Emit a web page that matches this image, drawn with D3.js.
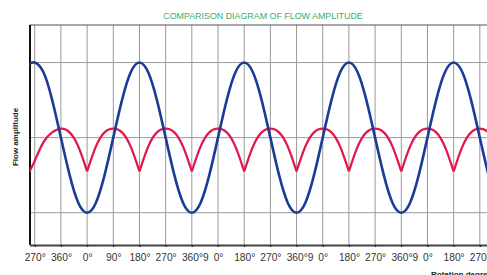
<!DOCTYPE html>
<html>
<head>
<meta charset="utf-8">
<script src="https://cdn.jsdelivr.net/npm/d3@7"></script>
<style>
  body { margin: 0; background: #fff; }
  svg { display: block; font-family: "Liberation Sans", Arial, sans-serif; }
</style>
</head>
<body>
<svg id="chart" width="487" height="275"></svg>
<script>
  // rotation angle (cumulative degrees) of each sample
  const angles = [-18,
    0, 30, 60, 90, 120, 150, 180, 210, 240, 270, 300, 330,
    360, 390, 420, 450, 480, 510, 540, 570, 600, 630, 660, 690,
    720, 750, 780, 810, 840, 870, 900, 930, 960, 990, 1020, 1050,
    1080, 1110, 1140, 1170, 1200, 1230, 1260, 1290, 1320, 1350, 1380, 1410,
    1440, 1470, 1500, 1530, 1560, 1590, 1620];

  const blueFlow = [0.98,
    1, 0.87, 0.5, 0, -0.5, -0.87, -1, -0.87, -0.5, 0, 0.5, 0.87,
    1, 0.87, 0.5, 0, -0.5, -0.87, -1, -0.87, -0.5, 0, 0.5, 0.87,
    1, 0.87, 0.5, 0, -0.5, -0.87, -1, -0.87, -0.5, 0, 0.5, 0.87,
    1, 0.87, 0.5, 0, -0.5, -0.87, -1, -0.87, -0.5, 0, 0.5, 0.87,
    1, 0.87, 0.5, 0, -0.5, -0.87, -1];

  const redFlow = [-0.45,
    -0.31, -0.06, 0.07, 0.12, 0.07, -0.12, -0.45, -0.12, 0.07, 0.12, 0.07, -0.12,
    -0.45, -0.12, 0.07, 0.12, 0.07, -0.12, -0.45, -0.12, 0.07, 0.12, 0.07, -0.12,
    -0.45, -0.12, 0.07, 0.12, 0.07, -0.12, -0.45, -0.12, 0.07, 0.12, 0.07, -0.12,
    -0.45, -0.12, 0.07, 0.12, 0.07, -0.12, -0.45, -0.12, 0.07, 0.12, 0.07, -0.12,
    -0.45, -0.12, 0.07, 0.12, 0.07, -0.12, -0.45];

  const tickAngles = [0, 90, 180, 270, 360, 450, 540, 630, 720, 810, 900, 990,
                      1080, 1170, 1260, 1350, 1440, 1530];
  const tickLabels = ["270°", "360°", "0°", "90°", "180°", "270°", "360°9", "0°", "180°",
                      "270°", "360°9", "0°", "180°", "270°", "360°9", "0°", "180°", "270°"];
  const levelTicks = [-1, 0, 1];

(function() {
  const plotLeft = 29.5, plotTop = 25, plotBottom = 245, plotRight = 506;

  const x = d3.scaleLinear().domain([-18, 1620]).range([plotLeft, plotRight]);
  const y = d3.scaleLinear().domain([-1.43, 1.5]).range([plotBottom, plotTop]);

  const svg = d3.select('#chart');

  svg.append('defs').append('clipPath').attr('id', 'plot')
     .append('rect').attr('x', plotLeft).attr('y', plotTop)
     .attr('width', plotRight - plotLeft).attr('height', plotBottom - plotTop);

  // title
  svg.append('text')
     .attr('x', 263).attr('y', 19)
     .attr('text-anchor', 'middle')
     .attr('font-size', 8.9)
     .attr('fill', '#35ad6c')
     .text('COMPARISON DIAGRAM OF FLOW AMPLITUDE');

  // grid
  svg.append('g').selectAll('line')
     .data(tickAngles)
     .enter().append('line')
     .attr('x1', d => x(d)).attr('x2', d => x(d))
     .attr('y1', plotTop).attr('y2', plotBottom)
     .attr('stroke', '#9a9a9a').attr('stroke-width', 1);

  svg.append('g').selectAll('line')
     .data(levelTicks)
     .enter().append('line')
     .attr('x1', plotLeft).attr('x2', plotRight)
     .attr('y1', d => y(d)).attr('y2', d => y(d))
     .attr('stroke', '#9a9a9a').attr('stroke-width', 1);

  // frame
  svg.append('line')
     .attr('x1', plotLeft).attr('x2', plotRight).attr('y1', plotTop).attr('y2', plotTop)
     .attr('stroke', '#555').attr('stroke-width', 1.2);
  svg.append('line')
     .attr('x1', plotLeft + 0.5).attr('x2', plotLeft + 0.5).attr('y1', plotTop).attr('y2', plotBottom)
     .attr('stroke', '#111').attr('stroke-width', 2);

  // bottom axis
  const axis = d3.axisBottom(x)
     .tickValues(tickAngles)
     .tickFormat((d, i) => tickLabels[i])
     .tickSizeInner(2)
     .tickSizeOuter(0)
     .tickPadding(7);

  const gx = svg.append('g')
     .attr('transform', `translate(0,${plotBottom})`)
     .call(axis);
  gx.select('.domain').attr('stroke', '#444').attr('stroke-width', 2);
  gx.selectAll('.tick line').attr('stroke', '#222').attr('stroke-width', 1.2);
  gx.selectAll('.tick text')
     .attr('font-size', 10.2)
     .attr('font-family', '"Liberation Sans", Arial, sans-serif')
     .attr('fill', '#333')
     .attr('dx', (d, i) => tickLabels[i].endsWith('9') ? 3 : 0);

  // curves
  const points = angles.map((a, i) => ({ a: a, blue: blueFlow[i], red: redFlow[i] }));

  // red flow: split into arcs at the cusps (local minima)
  const arcs = [];
  let current = [points[0]];
  for (let i = 1; i < points.length; i += 1) {
    current.push(points[i]);
    const isCusp = i < points.length - 1 &&
                   points[i].red <= points[i - 1].red && points[i].red <= points[i + 1].red;
    if (isCusp) {
      arcs.push(current);
      current = [points[i]];
    }
  }
  if (current.length > 1) arcs.push(current);

  const plot = svg.append('g').attr('clip-path', 'url(#plot)');

  const redLine = d3.line()
     .x(d => x(d.a)).y(d => y(d.red))
     .curve(d3.curveNatural);

  plot.selectAll('path.red')
     .data(arcs)
     .enter().append('path')
     .attr('class', 'red')
     .attr('d', redLine)
     .attr('fill', 'none')
     .attr('stroke', '#e2184d')
     .attr('stroke-width', 2.3)
     .attr('stroke-linejoin', 'round');

  const blueLine = d3.line()
     .x(d => x(d.a)).y(d => y(d.blue))
     .curve(d3.curveNatural);

  plot.append('path')
     .datum(points)
     .attr('d', blueLine)
     .attr('fill', 'none')
     .attr('stroke', '#1c3b97')
     .attr('stroke-width', 2.6);

  // axis titles
  svg.append('text')
     .attr('transform', 'translate(17.5,137) rotate(-90)')
     .attr('text-anchor', 'middle')
     .attr('font-size', 8)
     .attr('font-weight', 'bold')
     .attr('fill', '#222')
     .text('Flow amplitude');

  svg.append('text')
     .attr('x', 431).attr('y', 277)
     .attr('font-size', 8)
     .attr('font-weight', 'bold')
     .attr('fill', '#222')
     .text('Rotation degree');
})();
</script>
</body>
</html>
